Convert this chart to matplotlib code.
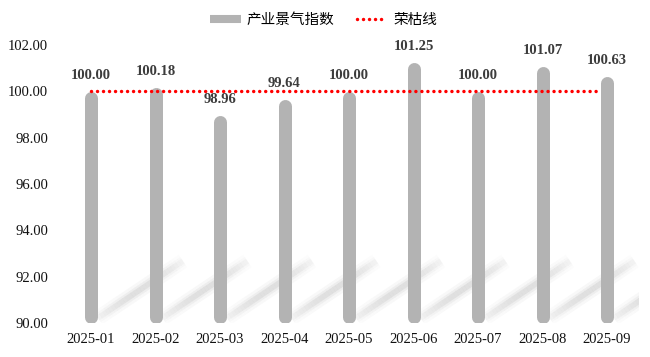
import matplotlib
matplotlib.use("Agg")
import matplotlib.pyplot as plt
from matplotlib.lines import Line2D
from matplotlib.collections import LineCollection
import numpy as np

# ---- data ----
categories = ["2025-01", "2025-02", "2025-03", "2025-04", "2025-05",
              "2025-06", "2025-07", "2025-08", "2025-09"]
index_values = [100.00, 100.18, 98.96, 99.64, 100.00, 101.25, 100.00, 101.07, 100.63]
boom_bust_line = 100.0
y_ticks = [90, 92, 94, 96, 98, 100, 102]
series_names = ["产业景气指数", "荣枯线"]

# ---- style ----
W, H, DPI = 650, 357, 100
bar_color = "#b3b3b3"
red = "#ff0000"
serif = ["Liberation Serif", "DejaVu Serif"]
cjk = ["Noto Sans CJK SC", "DejaVu Sans"]

fig = plt.figure(figsize=(W / DPI, H / DPI), dpi=DPI)
ax_left, ax_right = 58.75 / W, 639.25 / W
ax_bottom, ax_top = 34 / H, 312 / H
ax = fig.add_axes([ax_left, ax_bottom, ax_right - ax_left, ax_top - ax_bottom])

n = len(categories)
x = np.arange(n)
ymin, ymax = 90, 102
ax.set_xlim(-0.5, n - 0.5)
ax.set_ylim(ymin, ymax)

px_per_x = (ax_right - ax_left) * W / n
px_per_y = (ax_top - ax_bottom) * H / (ymax - ymin)

# shadows (soft diagonal streaks)
for xi in x:
    x0 = xi + 7 / px_per_x
    y0 = ymin + 5 / px_per_y
    x1 = xi + 92 / px_per_x
    y1 = ymin + 62 / px_per_y
    nseg = 30
    ts = np.linspace(0, 1, nseg + 1)
    xs = x0 + (x1 - x0) * ts
    ys = y0 + (y1 - y0) * ts
    segs = [[(xs[k], ys[k]), (xs[k + 1], ys[k + 1])] for k in range(nseg)]
    fade = np.sin(np.pi * (ts[:-1] * 0.85 + 0.1)) ** 0.8
    for lw, a in [(11, 0.06), (7, 0.09), (4, 0.14)]:
        cols = [(0.55, 0.55, 0.55, a * f) for f in fade]
        lc = LineCollection(segs, colors=cols, linewidths=lw, capstyle="butt", zorder=1)
        ax.add_collection(lc)

# bars as rounded thick lines
bar_px = 13
r = (bar_px / 2) / px_per_y
ax.vlines(x, [ymin + r] * n, [v - r for v in index_values], colors=bar_color,
          linewidth=bar_px * 72 / DPI, capstyle="round", zorder=2)

# boom-bust line
ax.plot([x[0], x[-1] - 0.1], [boom_bust_line, boom_bust_line], color=red,
        linewidth=2.5, linestyle=(0, (0.01, 1.72)), dash_capstyle="round", zorder=3)

# value labels
for xi, v in zip(x, index_values):
    ax.annotate(f"{v:.2f}", (xi, v), xytext=(0, 11.5), textcoords="offset points",
                ha="center", va="center", fontsize=10.5, fontweight="bold",
                family=serif, color="#3c3c3c", zorder=4)

# axes styling
for s in ax.spines.values():
    s.set_visible(False)
ax.set_xticks(x)
ax.set_xticklabels(categories, family=serif, fontsize=10.5, color="#111111")
ax.set_yticks(y_ticks)
ax.set_yticklabels([f"{t:.2f}" for t in y_ticks], family=serif, fontsize=10.5, color="#111111")
ax.tick_params(axis="both", length=0)
ax.tick_params(axis="y", pad=7.5)
ax.tick_params(axis="x", pad=7.5)

# legend
handles = [
    Line2D([], [], color=bar_color, linewidth=5.8, solid_capstyle="butt"),
    Line2D([], [], color=red, linewidth=2.5, linestyle=(0, (0.01, 1.72)), dash_capstyle="round"),
]
fig.legend(handles, series_names, loc="center", bbox_to_anchor=(0.498, 1 - 20 / H),
           ncol=2, frameon=False, prop={"family": cjk, "size": 10.5},
           handlelength=2.1, handletextpad=0.4, columnspacing=1.5, borderpad=0)

fig.savefig("out.png", dpi=DPI)
